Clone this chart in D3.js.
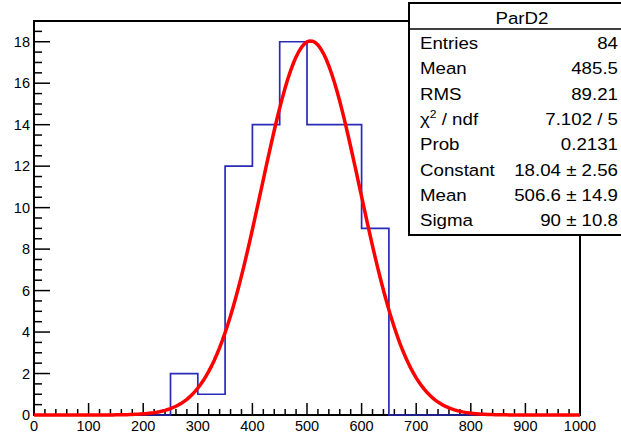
<!DOCTYPE html>
<html><head><meta charset="utf-8">
<script src="https://cdn.jsdelivr.net/npm/d3@7"></script>
<style>body{margin:0;background:#fff}svg{display:block}text{font-family:"Liberation Sans",Arial,Helvetica,sans-serif}</style>
</head><body>
<script>
// ---- data ----
const binEdges = [0,50,100,150,200,250,300,350,400,450,500,550,600,650,700,750,800,850,900,950,1000];
const binCounts = [0,0,0,0,0,2,1,12,14,18,14,14,9,0,0,0,0,0,0,0];
const xTicks = [0,100,200,300,400,500,600,700,800,900,1000];
const yTicks = [0,2,4,6,8,10,12,14,16,18];
const fitConstant = 18.04, fitMean = 506.6, fitSigma = 90;
const statsTitle = "ParD2";
const statsLabels = ["Entries","Mean","RMS","χ2 / ndf","Prob","Constant","Mean","Sigma"];
const statsValues = ["84","485.5","89.21","7.102 / 5","0.2131","18.04 ± 2.56","506.6 ± 14.9","90 ± 10.8"];

const W=621,H=433;
const svg=d3.select("body").append("svg").attr("width",W).attr("height",H);
const x=d3.scaleLinear().domain([0,1000]).range([34,580]);
const y=d3.scaleLinear().domain([0,19]).range([415,21]);

// frame
svg.append("rect").attr("x",x(0)).attr("y",y(19)).attr("width",x(1000)-x(0)).attr("height",y(0)-y(19))
  .attr("fill","#fff").attr("stroke","#000").attr("stroke-width",2);

// x axis ticks (inside)
const xMinor=d3.range(0,1001,20);
const gx=svg.append("g");
gx.selectAll("line").data(xMinor).join("line")
  .attr("x1",d=>x(d)).attr("x2",d=>x(d)).attr("y1",y(0))
  .attr("y2",d=>y(0)-(d%100===0?12:6)).attr("stroke","#000").attr("stroke-width",1.5);
gx.selectAll("text").data(xTicks).join("text")
  .attr("x",d=>x(d)).attr("y",431).attr("text-anchor","middle")
  .attr("font-size",14.5).text(d=>d);

// y axis ticks
const yMinor=d3.range(0,19.01,0.5);
const gy=svg.append("g");
gy.selectAll("line").data(yMinor).join("line")
  .attr("y1",d=>y(d)).attr("y2",d=>y(d)).attr("x1",x(0))
  .attr("x2",d=>x(0)+(Math.abs(d%2)<1e-9?16:8)).attr("stroke","#000").attr("stroke-width",1.5);
gy.selectAll("text").data(yTicks).join("text")
  .attr("x",30).attr("y",d=>y(d)+5).attr("text-anchor","end")
  .attr("font-size",14.5).text(d=>d);

// histogram outline
const pts=[[0,0]];
binCounts.forEach((c,i)=>{pts.push([binEdges[i],c]);pts.push([binEdges[i+1],c]);});
pts.push([1000,0]);
svg.append("path").attr("d",d3.line().x(d=>x(d[0])).y(d=>y(d[1]))(pts))
  .attr("fill","none").attr("stroke","#2a2ab8").attr("stroke-width",1.7);

// fit curve
const fx=d3.range(0,1000.01,5);
svg.append("path").attr("d",d3.line().x(d=>x(d)).y(d=>y(fitConstant*Math.exp(-0.5*((d-fitMean)/fitSigma)**2)))(fx))
  .attr("fill","none").attr("stroke","#ff0000").attr("stroke-width",3.5);

// stats box
const bx=409,by=3,bw=215,bh=232;
const sb=svg.append("g");
sb.append("rect").attr("x",bx).attr("y",by).attr("width",bw).attr("height",bh)
  .attr("fill","#fff").attr("stroke","#000").attr("stroke-width",2);
sb.append("line").attr("x1",bx).attr("x2",bx+bw).attr("y1",29).attr("y2",29).attr("stroke","#000").attr("stroke-width",1.5);
sb.append("text").attr("transform","translate(522,24) scale(1.1,1)").attr("text-anchor","middle")
  .attr("font-size",17).text(statsTitle);
statsLabels.forEach((l,i)=>{
  const yy=49+i*25.3;
  const t=sb.append("text").attr("transform",`translate(420,${yy}) scale(1.1,1)`).attr("font-size",17);
  if(l.startsWith("χ2")){
    t.append("tspan").text("χ");
    t.append("tspan").attr("font-size",11).attr("dy",-7).text("2");
    t.append("tspan").attr("dy",7).text(" / ndf");
  } else t.text(l);
  sb.append("text").attr("transform",`translate(618,${yy}) scale(1.1,1)`).attr("text-anchor","end")
    .attr("font-size",17).text(statsValues[i]);
});
</script>
</body></html>
